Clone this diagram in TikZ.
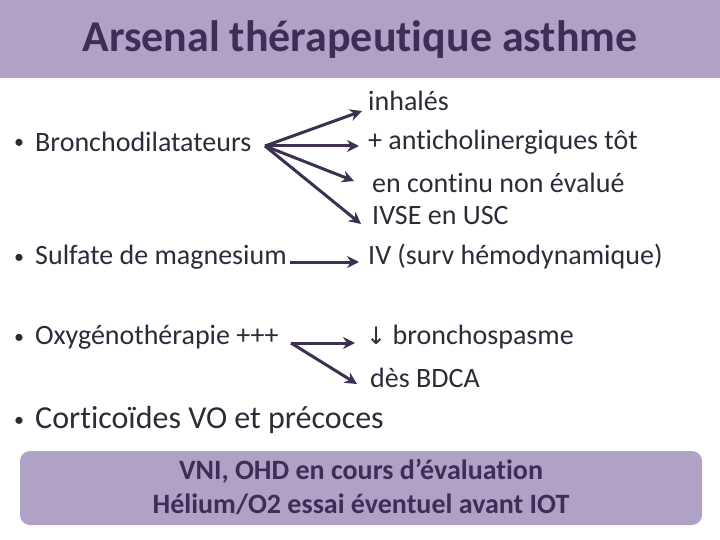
\documentclass[tikz,border=0pt]{standalone}
\usepackage{fontspec}
\setmainfont{Carlito}[Ligatures=NoCommon]
\newfontfamily\djv{DejaVu Sans}
\usetikzlibrary{arrows.meta}
\definecolor{hdr}{HTML}{B0A1C6}
\definecolor{ttl}{HTML}{3F2D58}
\definecolor{bodyc}{HTML}{2E2A3A}
\definecolor{arr}{HTML}{3D3050}
\tikzset{
  body/.style={anchor=west, inner sep=0pt, text=bodyc, font=\fontsize{28}{32}\selectfont},
  big/.style={anchor=west, inner sep=0pt, text=bodyc, font=\fontsize{32}{36}\selectfont},
  bul/.style={anchor=center, inner sep=0pt, text=bodyc, font=\fontsize{20}{24}\selectfont},
  arrw/.style={draw=arr, line width=3pt, -{Stealth[length=12pt,width=12pt]}}
}
\begin{document}
\begin{tikzpicture}[x=1pt,y=-1pt]
\useasboundingbox (0,0) rectangle (720,540);
\fill[hdr] (0,0) rectangle (720,78);
\node[text=ttl, font=\fontsize{44}{50}\selectfont\bfseries] (title) at (360,40) {Arsenal thérapeutique asthme};
% left
\node[bul] (b1) at (19,144) {•};
\node[body] (broncho) at (35,142) {Bronchodilatateurs};
\node[bul] (b2) at (19,259) {•};
\node[body] (sulfate) at (35,257) {Sulfate de magnesium};
\node[bul] (b3) at (19,339) {•};
\node[body] (oxy) at (35,337) {Oxygénothérapie +++};
\node[bul] (b4) at (19,422) {•};
\node[big] (cortico) at (35,420) {Corticoïdes VO et précoces};
% right
\node[body] (inh) at (368,101) {inhalés};
\node[body] (anti) at (368,142) {+ anticholinergiques tôt};
\node[body] (cont) at (372,183) {en continu non évalué};
\node[body] (ivse) at (372,216) {IVSE en USC};
\node[body] (iv) at (368,257) {IV (surv hémodynamique)};
\node[body] (bsp) at (366,337) {{\djv\fontsize{24}{28}\selectfont ↓} bronchospasme};
\node[body] (des) at (370,378) {dès BDCA};
% arrow anchors
\coordinate (s1) at (265,146);
\coordinate (t1) at (362,111);
\coordinate (t2) at (359,146);
\coordinate (t3) at (354,181);
\coordinate (t4) at (361,224);
\coordinate (s2) at (290,262);
\coordinate (t5) at (359,262);
\coordinate (s3) at (291,343);
\coordinate (t6) at (355,343);
\coordinate (t7) at (357,384);
\draw[arrw] (s1) -- (t1);
\draw[arrw] (s1) -- (t2);
\draw[arrw] (s1) -- (t3);
\draw[arrw] (s1) -- (t4);
\draw[arrw] (s2) -- (t5);
\draw[arrw] (s3) -- (t6);
\draw[arrw] (s3) -- (t7);
% bottom box
\fill[hdr, rounded corners=10pt] (20,451) rectangle (702,525);
\node[text=ttl, font=\fontsize{28}{34}\selectfont\bfseries, align=center] (box) at (361,487) {VNI, OHD en cours d’évaluation\\Hélium/O2 essai éventuel avant IOT};
\end{tikzpicture}
\end{document}
